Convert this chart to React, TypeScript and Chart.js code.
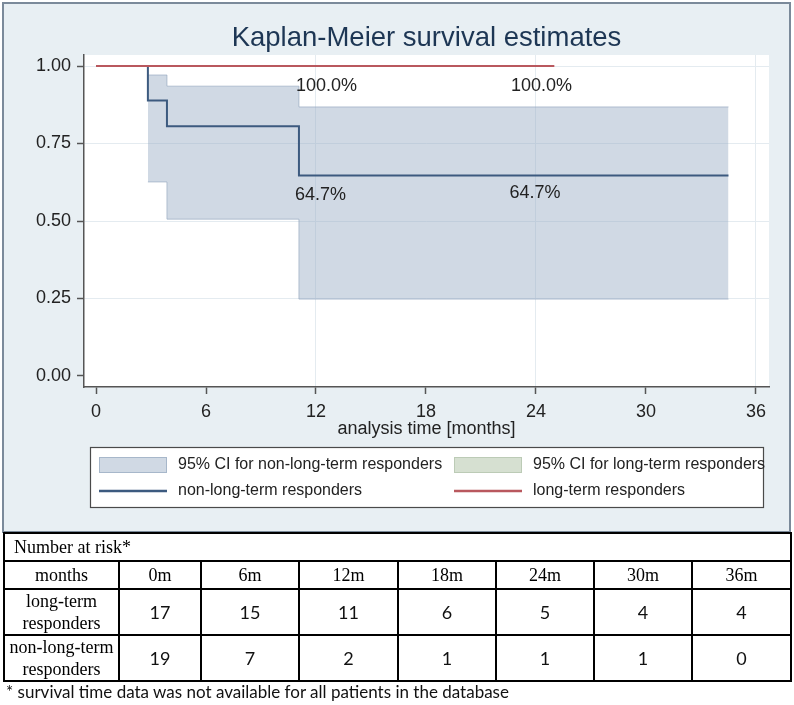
import React, { useEffect, useRef } from 'react';
import { Chart, registerables } from 'chart.js';

Chart.register(...registerables);

// ---- data ----
const xTicks = [0, 6, 12, 18, 24, 30, 36];
const yTicks = [0, 0.25, 0.5, 0.75, 1.0];
const xGridAt = [12, 24, 36];
const yGridAt = [0.25, 0.5, 0.75, 1.0];

// long-term responders (KM estimate)
const ltTime = [0, 25];
const ltSurv = [1, 1];

// non-long-term responders (KM estimate)
const nltTime = [0, 2.83, 3.87, 11.07, 34.5];
const nltSurv = [1, 0.889, 0.806, 0.647, 0.647];

// 95% CI for non-long-term responders
const ciTime = [2.83, 3.87, 11.07, 34.5];
const ciUpper = [0.971, 0.935, 0.868, 0.868];
const ciLower = [0.626, 0.506, 0.248, 0.248];

// in-plot annotations
const annotText = ['100.0%', '100.0%', '64.7%', '64.7%'];
const annotX = [12.57, 24.3, 12.25, 23.95];
const annotY = [0.935, 0.935, 0.584, 0.59];

const chartTitle = 'Kaplan-Meier survival estimates';
const xTitle = 'analysis time [months]';
const legendLabels = [
  '95% CI for non-long-term responders',
  '95% CI for long-term responders',
  'non-long-term responders',
  'long-term responders',
];

// number-at-risk table
const riskHeader = 'Number at risk*';
const riskMonths = ['0m', '6m', '12m', '18m', '24m', '30m', '36m'];
const riskLT = [17, 15, 11, 6, 5, 4, 4];
const riskNLT = [19, 7, 2, 1, 1, 1, 0];
const footnote = '* survival time data was not available for all patients in the database';

// ---- styles ----
const SANS = '"Liberation Sans", Arial, sans-serif';
const RED = '#b9585e';
const BLUE = '#3c5a7f';
const CI_FILL = 'rgba(150,170,195,0.45)';
const CI_BORDER = 'rgba(140,160,185,0.6)';
const CI2_FILL = '#d6e0d1';
const CI2_BORDER = '#bccbb6';

const toPts = (xs: number[], ys: number[]) => xs.map((x, i) => ({ x, y: ys[i] }));

const decor = {
  id: 'decor',
  beforeDraw(chart: any) {
    const { ctx, chartArea: a } = chart;
    ctx.save();
    ctx.fillStyle = '#e8eff3';
    ctx.fillRect(3, 3, 787, 529);
    ctx.strokeStyle = '#7b8a9a';
    ctx.lineWidth = 2;
    ctx.strokeRect(3, 3, 787, 529);
    ctx.fillStyle = '#ffffff';
    ctx.fillRect(a.left, a.top, a.right - a.left, a.bottom - a.top);
    ctx.restore();
  },
  afterDatasetsDraw(chart: any) {
    const { ctx, scales } = chart;
    ctx.save();
    ctx.font = `18px ${SANS}`;
    ctx.fillStyle = '#222';
    ctx.textAlign = 'center';
    ctx.textBaseline = 'middle';
    annotText.forEach((t, i) => {
      ctx.fillText(t, scales.x.getPixelForValue(annotX[i]), scales.y.getPixelForValue(annotY[i]));
    });
    ctx.restore();
  },
  afterDraw(chart: any) {
    const { ctx, chartArea: a } = chart;
    ctx.save();
    // title
    ctx.font = `27.5px ${SANS}`;
    ctx.fillStyle = '#1d3654';
    ctx.textAlign = 'center';
    ctx.textBaseline = 'middle';
    ctx.fillText(chartTitle, (a.left + a.right) / 2, 38);
    // legend
    ctx.fillStyle = '#fff';
    ctx.fillRect(90.5, 447.5, 673, 60);
    ctx.strokeStyle = '#4a4a4a';
    ctx.lineWidth = 1.2;
    ctx.strokeRect(90.5, 447.5, 673, 60);
    const cols = [99, 454];
    const rows = [465, 491];
    ctx.lineWidth = 1;
    ctx.fillStyle = CI_FILL;
    ctx.fillRect(cols[0], rows[0] - 8, 68, 16);
    ctx.strokeStyle = CI_BORDER;
    ctx.strokeRect(cols[0] + 0.5, rows[0] - 7.5, 67, 15);
    ctx.fillStyle = CI2_FILL;
    ctx.fillRect(cols[1], rows[0] - 8, 68, 16);
    ctx.strokeStyle = CI2_BORDER;
    ctx.strokeRect(cols[1] + 0.5, rows[0] - 7.5, 67, 15);
    ctx.lineWidth = 2.5;
    ctx.strokeStyle = BLUE;
    ctx.beginPath();
    ctx.moveTo(cols[0], rows[1]);
    ctx.lineTo(cols[0] + 68, rows[1]);
    ctx.stroke();
    ctx.strokeStyle = RED;
    ctx.beginPath();
    ctx.moveTo(cols[1], rows[1]);
    ctx.lineTo(cols[1] + 68, rows[1]);
    ctx.stroke();
    ctx.font = `16px ${SANS}`;
    ctx.fillStyle = '#222';
    ctx.textAlign = 'left';
    ctx.textBaseline = 'middle';
    ctx.fillText(legendLabels[0], cols[0] + 79, rows[0]);
    ctx.fillText(legendLabels[1], cols[1] + 79, rows[0]);
    ctx.fillText(legendLabels[2], cols[0] + 79, rows[1]);
    ctx.fillText(legendLabels[3], cols[1] + 79, rows[1]);
    ctx.restore();
  },
};

function KMChart() {
  const ref = useRef<HTMLCanvasElement>(null);
  useEffect(() => {
    const canvas = ref.current;
    if (!canvas) return;
    const chart = new Chart(canvas, {
      type: 'line',
      data: {
        datasets: [
          {
            label: legendLabels[3],
            data: toPts(ltTime, ltSurv),
            borderColor: RED,
            borderWidth: 2,
            pointRadius: 0,
            fill: false,
            order: 0,
          },
          {
            label: legendLabels[2],
            data: toPts(nltTime, nltSurv),
            borderColor: BLUE,
            borderWidth: 2,
            pointRadius: 0,
            stepped: true,
            fill: false,
            order: 1,
          },
          {
            label: legendLabels[0] + ' (upper)',
            data: toPts(ciTime, ciUpper),
            borderColor: CI_BORDER,
            borderWidth: 1,
            backgroundColor: CI_FILL,
            pointRadius: 0,
            stepped: true,
            fill: '+1',
            order: 2,
          },
          {
            label: legendLabels[0] + ' (lower)',
            data: toPts(ciTime, ciLower),
            borderColor: CI_BORDER,
            borderWidth: 1,
            pointRadius: 0,
            stepped: true,
            fill: false,
            order: 3,
          },
        ],
      },
      options: {
        responsive: false,
        animation: false,
        devicePixelRatio: 1,
        layout: { padding: { top: 55, right: 25, bottom: 88, left: 0 } },
        plugins: { legend: { display: false }, tooltip: { enabled: false }, title: { display: false } },
        scales: {
          x: {
            type: 'linear',
            min: -0.655,
            max: 36.71,
            afterBuildTicks: (s: any) => { s.ticks = xTicks.map((v) => ({ value: v })); },
            afterFit: (s: any) => { s.height = 60; },
            ticks: { color: '#222', font: { family: SANS, size: 18 }, padding: 7, maxRotation: 0, autoSkip: false },
            grid: {
              color: (c: any) => (c.tick && xGridAt.includes(c.tick.value) ? '#e4ebf0' : 'rgba(0,0,0,0)'),
              lineWidth: 1,
              tickColor: '#555',
              tickWidth: 1.5,
              tickLength: 7,
            },
            border: { display: true, color: '#555', width: 1.5 },
            title: { display: true, text: xTitle, color: '#222', font: { family: SANS, size: 18 }, padding: { top: 0, bottom: 7 } },
          },
          y: {
            type: 'linear',
            min: -0.0355,
            max: 1.0355,
            afterBuildTicks: (s: any) => { s.ticks = yTicks.map((v) => ({ value: v })); },
            afterFit: (s: any) => { s.width = 84; },
            ticks: { color: '#222', font: { family: SANS, size: 18 }, padding: 6, callback: (v: any) => Number(v).toFixed(2) },
            grid: {
              color: (c: any) => (c.tick && yGridAt.includes(c.tick.value) ? '#e4ebf0' : 'rgba(0,0,0,0)'),
              lineWidth: 1,
              tickColor: '#555',
              tickWidth: 1.5,
              tickLength: 7,
            },
            border: { display: true, color: '#555', width: 1.5 },
          },
        },
      },
      plugins: [decor],
    } as any);
    return () => chart.destroy();
  }, []);
  return <canvas ref={ref} width={794} height={535} style={{ position: 'absolute', left: 0, top: 0, width: 794, height: 535 }} />;
}

const colW = [115, 82, 98, 99, 98, 98, 98, 99];
const cell: React.CSSProperties = { border: '2px solid #000', padding: 0, textAlign: 'center', verticalAlign: 'middle' };
const numCell: React.CSSProperties = { ...cell, fontFamily: 'Lato, "Open Sans", sans-serif', fontSize: 18, color: '#111' };
const labCell: React.CSSProperties = { ...cell, lineHeight: '22px' };

export default function App() {
  return (
    <div style={{ position: 'fixed', left: 0, top: 0, width: 794, height: 705, background: '#fff', overflow: 'hidden' }}>
      <KMChart />
      <table
        style={{
          position: 'absolute', left: 3, top: 532, width: 787, borderCollapse: 'collapse', tableLayout: 'fixed',
          fontFamily: '"Liberation Serif", "Times New Roman", serif', fontSize: 18, color: '#000',
        }}
      >
        <colgroup>
          {colW.map((w, i) => <col key={i} style={{ width: w }} />)}
        </colgroup>
        <tbody>
          <tr style={{ height: 28 }}>
            <td colSpan={8} style={{ ...cell, textAlign: 'left', paddingLeft: 9 }}>{riskHeader}</td>
          </tr>
          <tr style={{ height: 28 }}>
            <td style={cell}>months</td>
            {riskMonths.map((m) => <td key={m} style={cell}>{m}</td>)}
          </tr>
          <tr style={{ height: 44 }}>
            <td style={labCell}>long-term<br />responders</td>
            {riskLT.map((v, i) => <td key={i} style={numCell}>{v}</td>)}
          </tr>
          <tr style={{ height: 44 }}>
            <td style={labCell}>non-long-term<br />responders</td>
            {riskNLT.map((v, i) => <td key={i} style={numCell}>{v}</td>)}
          </tr>
        </tbody>
      </table>
      <div style={{ position: 'absolute', left: 6, top: 681, fontFamily: 'Lato, "Open Sans", sans-serif', fontSize: 17, color: '#111', whiteSpace: 'nowrap' }}>
        {footnote}
      </div>
    </div>
  );
}
